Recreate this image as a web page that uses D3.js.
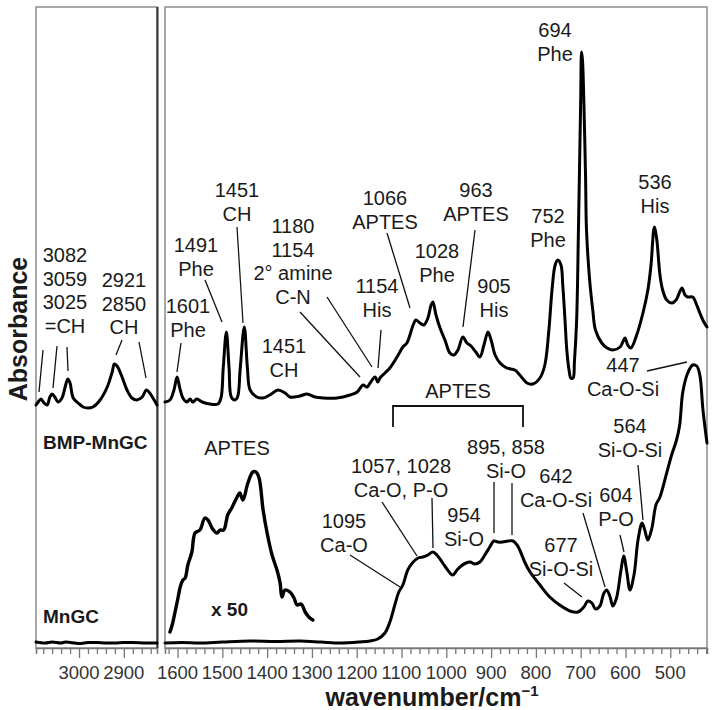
<!DOCTYPE html>
<html>
<head>
<meta charset="utf-8">
<script src="https://cdn.jsdelivr.net/npm/d3@7"></script>
<style>
  body { margin: 0; background: #fff; }
  text { font-family: "Liberation Sans", Arial, sans-serif; fill: #1a1a1a; }
</style>
</head>
<body>
<svg id="chart" width="714" height="710"></svg>
<script>
// spectra: [wavenumber, absorbance (a.u., offsets included)]
var bmpHigh = [[3096,0.486],[3091,0.492],[3085,0.498],[3078,0.490],[3071,0.486],[3065,0.502],[3060,0.508],
  [3054,0.502],[3047,0.492],[3038,0.500],[3031,0.522],[3025,0.538],[3020,0.530],[3013,0.500],[3002,0.490],
  [2991,0.482],[2980,0.480],[2969,0.482],[2953,0.496],[2937,0.522],[2926,0.552],[2921,0.568],[2915,0.564],
  [2904,0.542],[2893,0.516],[2882,0.500],[2871,0.496],[2859,0.502],[2850,0.516],[2844,0.512],[2835,0.500],[2826,0.486]];

var mngcHigh = [[3096,0.012],[3075,0.010],[3060,0.012],[3040,0.010],[3030,0.012],[3000,0.009],[2980,0.011],
  [2960,0.011],[2940,0.010],[2920,0.010],[2900,0.011],[2880,0.011],[2850,0.010],[2826,0.010]];

var bmpLow = [[1628,0.492],[1617,0.496],[1608,0.516],[1601,0.542],[1595,0.520],[1588,0.500],[1579,0.492],
  [1572,0.498],[1566,0.492],[1557,0.498],[1545,0.492],[1528,0.488],[1510,0.488],[1503,0.500],[1498,0.560],
  [1491,0.632],[1485,0.560],[1480,0.502],[1472,0.496],[1466,0.502],[1460,0.560],[1451,0.642],[1444,0.560],
  [1438,0.516],[1423,0.502],[1409,0.500],[1394,0.506],[1376,0.516],[1360,0.510],[1349,0.502],[1327,0.504],
  [1311,0.508],[1293,0.502],[1275,0.500],[1244,0.500],[1215,0.506],[1199,0.512],[1186,0.526],[1177,0.522],
  [1170,0.530],[1159,0.542],[1153,0.532],[1148,0.540],[1137,0.550],[1126,0.560],[1110,0.582],[1097,0.602],
  [1088,0.610],[1074,0.646],[1068,0.656],[1059,0.650],[1050,0.646],[1041,0.660],[1034,0.686],[1030,0.692],
  [1023,0.666],[1014,0.640],[1003,0.616],[992,0.590],[983,0.586],[974,0.596],[963,0.622],[954,0.610],
  [945,0.604],[934,0.592],[925,0.582],[916,0.606],[907,0.632],[900,0.616],[891,0.586],[880,0.570],
  [865,0.560],[847,0.556],[836,0.546],[820,0.530],[807,0.528],[791,0.540],[780,0.566],[771,0.636],
  [764,0.716],[757,0.766],[751,0.776],[744,0.766],[740,0.726],[735,0.656],[731,0.596],[726,0.556],
  [722,0.540],[717,0.540],[714,0.572],[709,0.656],[705,0.836],[700,1.096],[698,1.192],[696,1.176],
  [693,1.096],[689,0.936],[687,0.836],[680,0.736],[673,0.676],[667,0.636],[653,0.610],[641,0.600],
  [628,0.596],[612,0.602],[606,0.612],[601,0.620],[595,0.606],[588,0.600],[575,0.626],[561,0.670],
  [550,0.716],[543,0.766],[537,0.836],[535,0.842],[530,0.816],[523,0.746],[517,0.716],[508,0.696],
  [496,0.690],[487,0.696],[474,0.720],[467,0.706],[461,0.702],[450,0.702],[441,0.686],[434,0.670],
  [425,0.652],[418,0.642]];

var mngcLow = [[1628,0.010],[1590,0.011],[1550,0.010],[1500,0.012],[1438,0.014],[1380,0.013],[1327,0.014],
  [1280,0.012],[1237,0.010],[1193,0.012],[1170,0.014],[1153,0.018],[1137,0.030],[1126,0.052],[1115,0.086],
  [1106,0.112],[1097,0.126],[1086,0.156],[1074,0.172],[1063,0.180],[1052,0.182],[1041,0.186],[1030,0.192],
  [1021,0.186],[1008,0.170],[997,0.156],[986,0.146],[976,0.156],[967,0.164],[956,0.170],[947,0.172],
  [936,0.168],[925,0.172],[914,0.186],[903,0.202],[894,0.214],[885,0.212],[874,0.212],[862,0.214],
  [851,0.214],[842,0.206],[836,0.196],[824,0.170],[813,0.152],[791,0.126],[769,0.102],[747,0.086],
  [724,0.074],[706,0.072],[693,0.082],[684,0.094],[675,0.090],[667,0.078],[657,0.084],[649,0.108],
  [642,0.116],[635,0.104],[628,0.084],[620,0.100],[610,0.156],[604,0.184],[597,0.152],[590,0.116],
  [581,0.146],[572,0.216],[563,0.250],[557,0.236],[550,0.216],[541,0.240],[532,0.286],[523,0.302],
  [508,0.350],[497,0.386],[486,0.416],[479,0.446],[472,0.512],[461,0.550],[450,0.566],[441,0.564],
  [434,0.546],[427,0.476],[418,0.410]];

var aptesX50 = [[1617,0.032],[1612,0.046],[1606,0.070],[1599,0.100],[1594,0.122],[1588,0.136],[1583,0.140],
  [1577,0.166],[1568,0.192],[1561,0.230],[1550,0.236],[1539,0.260],[1532,0.256],[1523,0.240],[1512,0.230],
  [1505,0.236],[1497,0.236],[1488,0.266],[1479,0.280],[1467,0.302],[1461,0.310],[1454,0.296],[1443,0.330],
  [1432,0.352],[1425,0.352],[1418,0.340],[1409,0.276],[1400,0.230],[1389,0.186],[1378,0.156],[1371,0.130],
  [1367,0.102],[1360,0.116],[1349,0.112],[1340,0.100],[1333,0.086],[1324,0.088],[1315,0.072],[1307,0.062],
  [1298,0.056]];

var highLabels = ["3000", "2900"];
var lowLabels = ["1600","1500","1400","1300","1200","1100","1000","900","800","700","600","500"];

var notes = [
  {x: 65, y: 262, lines: ["3082", "3059", "3025", "=CH"]},
  {x: 124, y: 287, lines: ["2921", "2850", "CH"]},
  {x: 188, y: 313, lines: ["1601", "Phe"]},
  {x: 196, y: 252, lines: ["1491", "Phe"]},
  {x: 237, y: 197, lines: ["1451", "CH"]},
  {x: 293, y: 233, lines: ["1180", "1154", "2\u00b0 amine", "C-N"]},
  {x: 377, y: 293, lines: ["1154", "His"]},
  {x: 284, y: 353, lines: ["1451", "CH"]},
  {x: 385, y: 205, lines: ["1066", "APTES"]},
  {x: 437, y: 258, lines: ["1028", "Phe"]},
  {x: 476, y: 197, lines: ["963", "APTES"]},
  {x: 494, y: 293, lines: ["905", "His"]},
  {x: 548, y: 223, lines: ["752", "Phe"]},
  {x: 555, y: 37, lines: ["694", "Phe"]},
  {x: 655, y: 189, lines: ["536", "His"]},
  {x: 623, y: 372, lines: ["447", "Ca-O-Si"]},
  {x: 630, y: 433, lines: ["564", "Si-O-Si"]},
  {x: 556, y: 483, lines: ["642", "Ca-O-Si"]},
  {x: 616, y: 502, lines: ["604", "P-O"]},
  {x: 561, y: 552, lines: ["677", "Si-O-Si"]},
  {x: 506, y: 454, lines: ["895, 858", "Si-O"]},
  {x: 464, y: 522, lines: ["954", "Si-O"]},
  {x: 401, y: 473, lines: ["1057, 1028", "Ca-O, P-O"]},
  {x: 344, y: 528, lines: ["1095", "Ca-O"]},
  {x: 237, y: 455, lines: ["APTES"]},
  {x: 458, y: 398, lines: ["APTES"]}
];

var leaders = [[43,350,39,392],[57,346,53,388],[67,347,68,371],[122,340,116,355],[139,342,146,378],
  [181,343,177,372],[205,280,222,322],[237,227,243,323],[300,312,360,377],[327,297,372,367],
  [381,330,378,368],[387,233,410,308],[475,230,463,327],
  [647,371,687,362],[638,465,643,520],[583,513,605,587],[620,535,624,552],[564,583,582,597],
  [494,482,494,533],[512,483,512,535],[382,502,417,556],[432,498,433,548],[350,555,400,587]];

var svg = d3.select("#chart");
var plotTop = 7, plotBottom = 648;

var y = d3.scaleLinear().domain([0, 1.282]).range([plotBottom, plotTop]);
var xHigh = d3.scaleLinear().domain([3096, 2826]).range([36, 157]);
var xLow = d3.scaleLinear().domain([1628, 418]).range([165, 707]);

function panel(x, minorTicks, majorLabels) {
  var g = svg.append("g");
  var r = x.range();
  g.append("rect")
    .attr("x", r[0]).attr("y", plotTop)
    .attr("width", r[1] - r[0]).attr("height", plotBottom - plotTop)
    .attr("fill", "none").attr("stroke", "#8c8c8c").attr("stroke-width", 1.5);

  var axis = d3.axisBottom(x)
    .tickValues(minorTicks)
    .tickSize(6)
    .tickFormat(function (d) { return ""; });
  var ag = g.append("g").attr("transform", "translate(0," + plotBottom + ")").call(axis);
  ag.select(".domain").attr("stroke", "#777").attr("stroke-width", 1.6);
  ag.selectAll(".tick line").attr("stroke", "#777").attr("stroke-width", 1.3)
    .attr("y2", function (d) { return d % 100 === 0 ? 10 : 6; });

  g.selectAll(".lab").data(majorLabels).enter().append("text")
    .attr("x", function (d) { return x(+d); })
    .attr("y", 679)
    .attr("text-anchor", "middle")
    .style("font-size", "18.5px")
    .style("fill", "#333")
    .text(function (d) { return d; });
  return g;
}

var pHigh = panel(xHigh, d3.range(3080, 2826, -20), highLabels);
var pLow = panel(xLow, d3.range(1620, 418, -20), lowLabels);

// darker divider at the right edge of the narrow panel
svg.append("line").attr("x1", 157.5).attr("x2", 157.5).attr("y1", plotTop).attr("y2", plotBottom)
  .attr("stroke", "#333").attr("stroke-width", 2);

function trace(x, data, w) {
  var line = d3.line()
    .x(function (d) { return x(d[0]); })
    .y(function (d) { return y(d[1]); })
    .curve(d3.curveCatmullRom.alpha(0.5));
  svg.append("path").datum(data)
    .attr("d", line)
    .attr("fill", "none")
    .attr("stroke", "#000")
    .attr("stroke-width", w)
    .attr("stroke-linejoin", "round")
    .attr("stroke-linecap", "round");
}

trace(xHigh, bmpHigh, 3);
trace(xHigh, mngcHigh, 3);
trace(xLow, bmpLow, 3);
trace(xLow, mngcLow, 3);
trace(xLow, aptesX50, 3.4);

// annotation leader lines
svg.selectAll(".leader").data(leaders).enter().append("line")
  .attr("x1", function (d) { return d[0]; }).attr("y1", function (d) { return d[1]; })
  .attr("x2", function (d) { return d[2]; }).attr("y2", function (d) { return d[3]; })
  .attr("stroke", "#111").attr("stroke-width", 1.3);

// APTES bracket
svg.append("path").attr("d", "M393,427V406H523V427")
  .attr("fill", "none").attr("stroke", "#111").attr("stroke-width", 1.8);

// annotation texts
notes.forEach(function (n) {
  var t = svg.append("text")
    .attr("text-anchor", "middle")
    .style("font-size", "20px");
  n.lines.forEach(function (s, i) {
    t.append("tspan").attr("x", n.x).attr("y", n.y + i * 23.7).text(s);
  });
});

svg.append("text").attr("x", 43).attr("y", 449)
  .style("font-size", "19px").style("font-weight", "bold").text("BMP-MnGC");
svg.append("text").attr("x", 43).attr("y", 623)
  .style("font-size", "19px").style("font-weight", "bold").text("MnGC");
svg.append("text").attr("x", 211).attr("y", 616)
  .style("font-size", "19px").style("font-weight", "bold").text("x 50");

svg.append("text")
  .attr("transform", "translate(27,329) rotate(-90)")
  .attr("text-anchor", "middle")
  .style("font-size", "25px").style("font-weight", "bold")
  .text("Absorbance");

var xt = svg.append("text")
  .attr("x", 432).attr("y", 706)
  .attr("text-anchor", "middle")
  .style("font-size", "25px").style("font-weight", "bold");
xt.append("tspan").text("wavenumber/cm");
xt.append("tspan").attr("dy", -10).style("font-size", "15px").text("\u22121");
</script>
</body>
</html>
